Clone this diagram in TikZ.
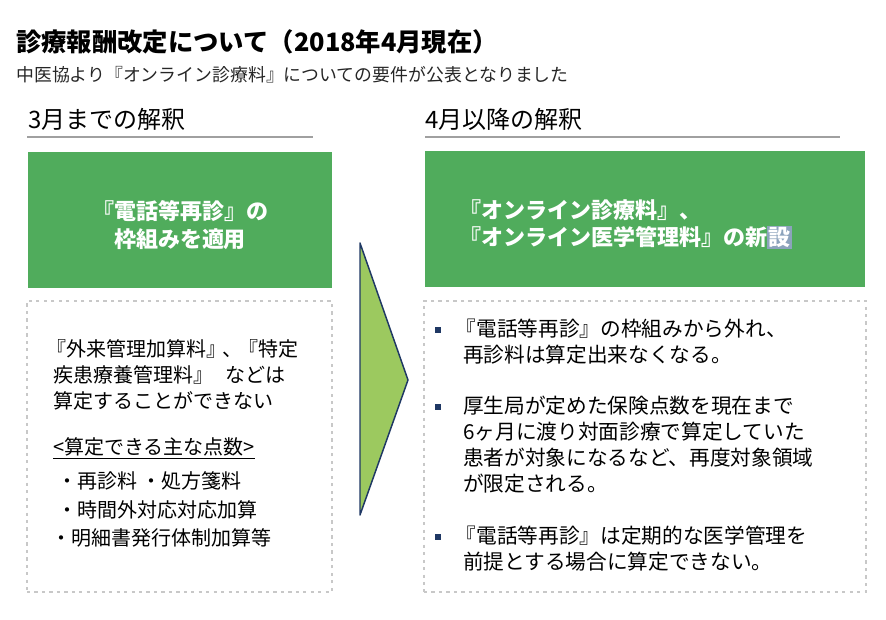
\documentclass[tikz,border=0pt]{standalone}
\usepackage{fontspec}
\setmainfont{Noto Sans CJK JP}
\definecolor{boxGreen}{RGB}{80,172,92}
\definecolor{arrowGreen}{RGB}{156,201,95}
\definecolor{navyLine}{RGB}{31,56,100}
\definecolor{dotGray}{RGB}{200,200,200}
\definecolor{ruleGray}{RGB}{160,160,160}
\definecolor{markBlue}{RGB}{140,163,188}
\tikzset{
	greenBox/.style={rectangle, fill=boxGreen, minimum height=102pt, inner sep=0pt},
	dotBox/.style={rectangle, draw=dotGray, line width=1.9pt, dash pattern=on 2.4pt off 3.2pt, minimum height=218.25pt, inner sep=0pt},
	headRule/.style={draw=ruleGray, line width=1.4pt},
	headText/.style={anchor=base west, inner sep=0pt, font=\fontsize{18pt}{22pt}\selectfont},
	boxTitle/.style={text=white, font=\fontsize{16.5pt}{20.5pt}\selectfont\bfseries, inner sep=0pt},
	bodyText/.style={font=\fontsize{15pt}{19.5pt}\selectfont, inner sep=0pt, align=left, anchor=north west},
	bulletMark/.style={rectangle, fill=navyLine, minimum size=4.5pt, inner sep=0pt}
}
\begin{document}
\begin{tikzpicture}[x=0.75pt, y=-0.75pt]
			\useasboundingbox (0,0) rectangle (886,620);
			% heading
			\node[anchor=base west, inner sep=0pt, font=\fontsize{19pt}{22pt}\selectfont\bfseries](titleText) at (16,51.5){診療報酬改定について（2018年4月現在）};
			\node[anchor=base west, inner sep=0pt, font=\fontsize{13.4pt}{16pt}\selectfont, text=black!85](subText) at (16,81.8){中医協より『オンライン診療料』についての要件が公表となりました};
			\node[headText](headMarch) at (28,129){3月までの解釈};
			\node[headText](headApril) at (425,129){4月以降の解釈};
			\draw[headRule] (27,137) -- (313,137);
			\draw[headRule] (425,137) -- (840,137);

			% green boxes
			\node[greenBox, minimum width=228pt](marchBox) at (180,220){};
			\node[greenBox, minimum width=330pt](aprilBox) at (645,219.5){};
			\node[boxTitle, align=center](marchText) at (180,225){『電話等再診』の\\枠組みを適用};
			\node[boxTitle, align=left, anchor=west](aprilText) at (467,224){\kern-6pt『オンライン診療料』、\\\kern-6pt『オンライン医学管理料』の新{\fboxsep=1pt\colorbox{markBlue}{設}}};

			% arrow
			\draw[fill=arrowGreen, draw=navyLine, line width=1.1pt, line join=round] (360,243) -- (408,380) -- (360,515) -- cycle;

			% dotted boxes
			\node[dotBox, minimum width=228.75pt](marchDots) at (179.5,446.5){};
			\node[dotBox, minimum width=331.5pt](aprilDots) at (645,446.5){};

			\node[bodyText](marchNote) at (53,339){\kern-5pt『外来管理加算料』\kern-3pt、\kern-3pt『特定\\疾患療養管理料』\hspace{0.6em}などは\\算定することができない};
			\node[anchor=base west, inner sep=0pt, font=\fontsize{15pt}{19.5pt}\selectfont](marchHead) at (53,455){\underline{<算定できる主な点数>}};
			\node[bodyText, font=\fontsize{15pt}{21.4pt}\selectfont](marchList) at (57,471.5){・再診料 ・処方箋料\\・時間外対応対応加算\\\kern-4.5pt・明細書発行体制加算等};

			\node[bulletMark](bulletOne) at (438,330){};
			\node[bulletMark](bulletTwo) at (438,407){};
			\node[bulletMark](bulletThree) at (438,537){};
			\node[bodyText, font=\fontsize{15.5pt}{19.5pt}\selectfont](aprilOne) at (463,318.5){\kern-5.5pt『電話等再診』の枠組みから外れ、\\再診料は算定出来なくなる。};
			\node[bodyText, font=\fontsize{15.5pt}{19.5pt}\selectfont](aprilTwo) at (463,395.5){厚生局が定めた保険点数を現在まで\\6ヶ月に渡り対面診療で算定していた\\患者が対象になるなど、再度対象領域\\が限定される。};
			\node[bodyText, font=\fontsize{15.5pt}{19.5pt}\selectfont](aprilThree) at (463,525.5){\kern-5.5pt『電話等再診』は定期的な医学管理を\\前提とする場合に算定できない。};
		\end{tikzpicture}
\end{document}
